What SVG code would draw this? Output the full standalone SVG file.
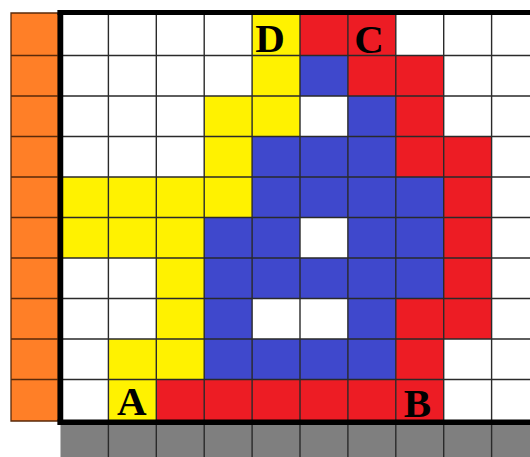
<svg xmlns="http://www.w3.org/2000/svg" width="530" height="457" viewBox="0 0 530 457">
<style>
.y{fill:#FFF200}.r{fill:#ED1C24}.b{fill:#3F48CC}.o{fill:#FF7F27}.g{fill:#7F7F7F}
.grid{stroke:#2a2a2a;stroke-width:1.4;fill:none}
.ogrid{stroke:#5a2a0a;stroke-width:1.3;fill:none}
.border{stroke:#000;fill:none}
.lbl{font-family:"Liberation Serif","Times New Roman",serif;font-weight:bold;font-size:41px;fill:#000;text-anchor:middle}
</style>
<rect width="530" height="457" fill="#fff"/>
<g id="orange-column">
<rect class="o" x="11" y="13" width="47" height="408"/>
<path class="ogrid" d="M11,13H58V421H11Z M11,55.5H58 M11,96H58 M11,136.5H58 M11,177H58 M11,217.5H58 M11,258H58 M11,298.5H58 M11,339H58 M11,379.5H58"/>
</g>
<g id="gray-row">
<rect class="g" x="60.5" y="422" width="470" height="35"/>
<path class="grid" d="M108.4,422V457 M156.3,422V457 M204.2,422V457 M252.1,422V457 M300,422V457 M347.9,422V457 M395.8,422V457 M443.7,422V457 M491.6,422V457"/>
</g>
<g id="yellow-cells">
<rect class="y" x="252.1" y="15" width="47.9" height="121.5"/>
<rect class="y" x="204.2" y="96" width="47.9" height="121.5"/>
<rect class="y" x="60.5" y="177" width="143.7" height="81"/>
<rect class="y" x="156.3" y="258" width="47.9" height="121.5"/>
<rect class="y" x="108.4" y="339" width="47.9" height="81"/>
</g>
<g id="red-cells">
<rect class="r" x="300" y="15" width="95.8" height="40.5"/>
<rect class="r" x="347.9" y="55.5" width="95.8" height="40.5"/>
<rect class="r" x="395.8" y="96" width="47.9" height="81"/>
<rect class="r" x="443.7" y="136.5" width="47.9" height="162"/>
<rect class="r" x="395.8" y="298.5" width="95.8" height="40.5"/>
<rect class="r" x="395.8" y="339" width="47.9" height="40.5"/>
<rect class="r" x="156.3" y="379.5" width="287.4" height="40.5"/>
</g>
<g id="blue-cells">
<rect class="b" x="300" y="55.5" width="47.9" height="40.5"/>
<rect class="b" x="347.9" y="96" width="47.9" height="40.5"/>
<rect class="b" x="252.1" y="136.5" width="143.7" height="40.5"/>
<rect class="b" x="252.1" y="177" width="191.6" height="40.5"/>
<rect class="b" x="204.2" y="217.5" width="95.8" height="40.5"/>
<rect class="b" x="347.9" y="217.5" width="95.8" height="40.5"/>
<rect class="b" x="204.2" y="258" width="239.5" height="40.5"/>
<rect class="b" x="204.2" y="298.5" width="47.9" height="40.5"/>
<rect class="b" x="347.9" y="298.5" width="47.9" height="40.5"/>
<rect class="b" x="204.2" y="339" width="191.6" height="40.5"/>
</g>
<g id="grid-lines">
<path class="grid" d="M108.4,15V420 M156.3,15V420 M204.2,15V420 M252.1,15V420 M300,15V420 M347.9,15V420 M395.8,15V420 M443.7,15V420 M491.6,15V420 M60.5,55.5H530 M60.5,96H530 M60.5,136.5H530 M60.5,177H530 M60.5,217.5H530 M60.5,258H530 M60.5,298.5H530 M60.5,339H530 M60.5,379.5H530"/>
</g>
<g id="borders">
<path class="border" stroke-width="5" d="M57.5,12.5H530"/>
<path class="border" stroke-width="5.5" d="M60.5,10V425"/>
<path class="border" stroke-width="5.5" d="M57.5,422.2H530"/>
</g>
<g id="labels">
<text class="lbl" x="270" y="52">D</text>
<text class="lbl" x="369" y="53">C</text>
<text class="lbl" x="131.7" y="415">A</text>
<text class="lbl" x="417.5" y="416.5">B</text>
</g>
</svg>
